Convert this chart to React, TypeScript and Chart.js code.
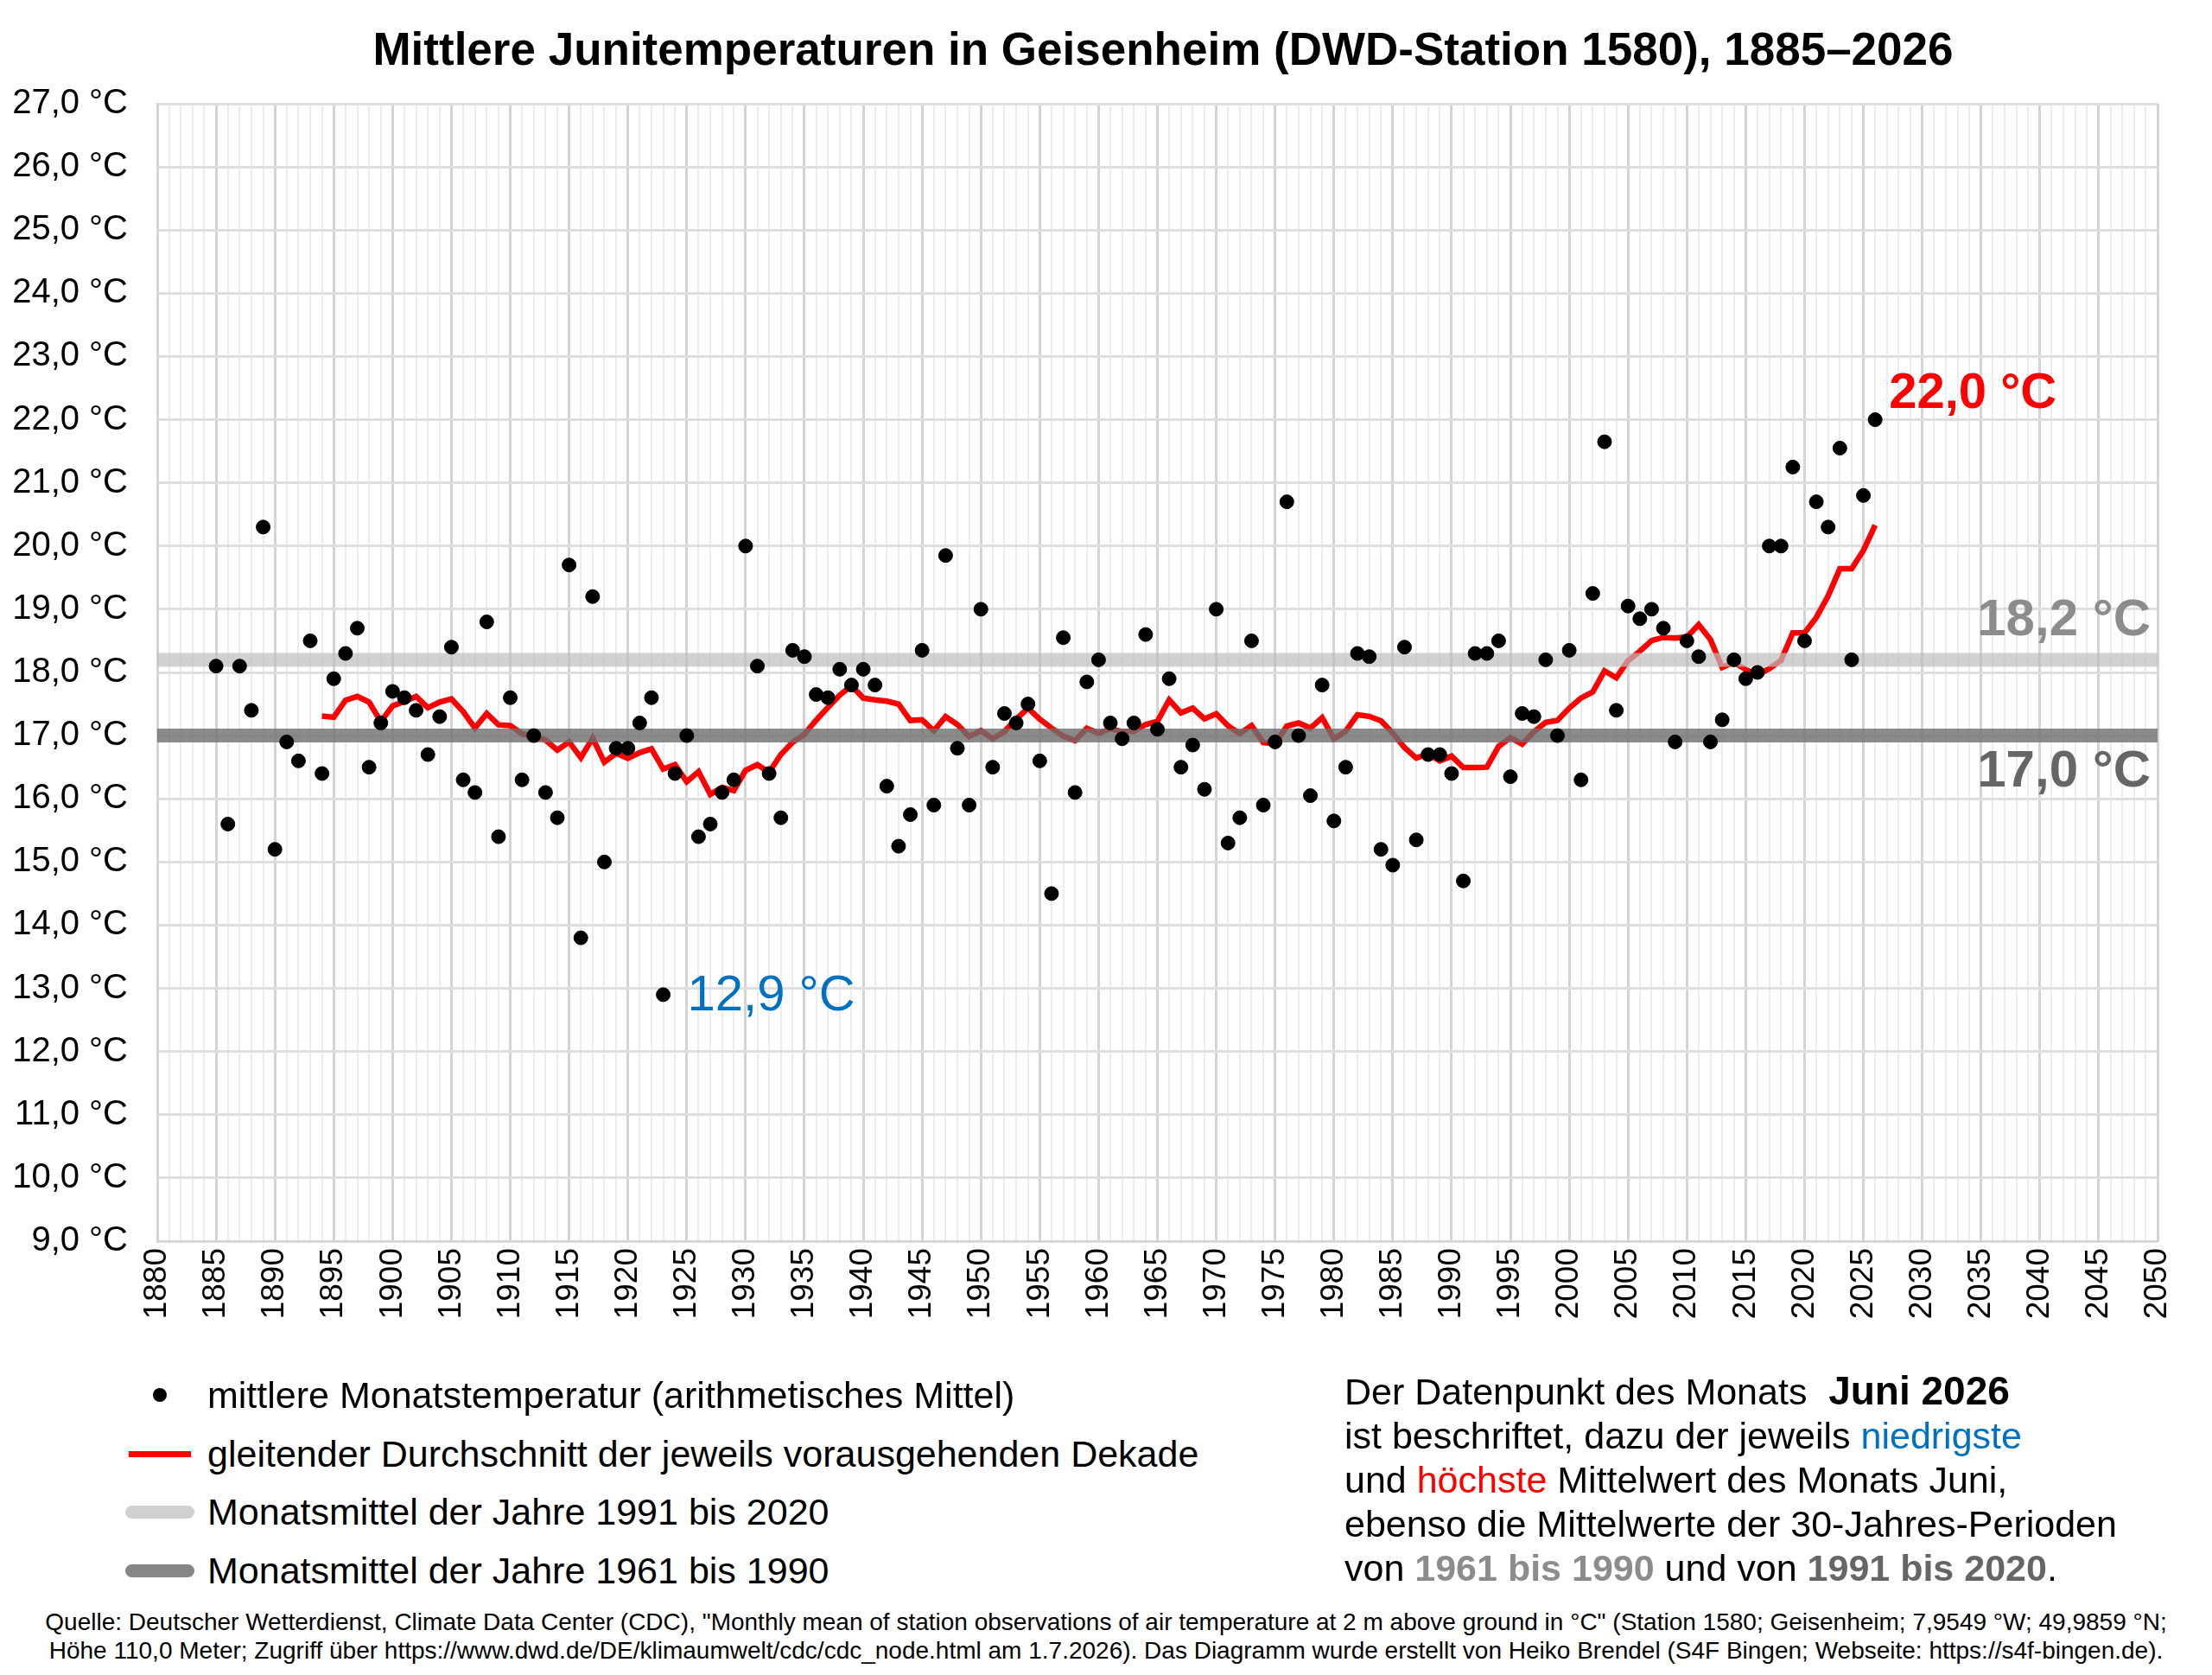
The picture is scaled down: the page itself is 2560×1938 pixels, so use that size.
import React, { useEffect, useRef } from "react";
import { Chart, registerables } from "chart.js";
Chart.register(...registerables);

const startYear = 1885;
const temps: number[] = [
  18.1, 15.6, 18.1, 17.4, 20.3, 15.2, 16.9, 16.6, 18.5, 16.4, // 1885-1894
  17.9, 18.3, 18.7, 16.5, 17.2, 17.7, 17.6, 17.4, 16.7, 17.3, // 1895-1904
  18.4, 16.3, 16.1, 18.8, 15.4, 17.6, 16.3, 17.0, 16.1, 15.7, // 1905-1914
  19.7, 13.8, 19.2, 15.0, 16.8, 16.8, 17.2, 17.6, 12.9, 16.4, // 1915-1924
  17.0, 15.4, 15.6, 16.1, 16.3, 20.0, 18.1, 16.4, 15.7, 18.35, // 1925-1934
  18.25, 17.65, 17.6, 18.05, 17.8, 18.05, 17.8, 16.2, 15.25, 15.75, // 1935-1944
  18.35, 15.9, 19.85, 16.8, 15.9, 19.0, 16.5, 17.35, 17.2, 17.5, // 1945-1954
  16.6, 14.5, 18.55, 16.1, 17.85, 18.2, 17.2, 16.95, 17.2, 18.6, // 1955-1964
  17.1, 17.9, 16.5, 16.85, 16.15, 19.0, 15.3, 15.7, 18.5, 15.9, // 1965-1974
  16.9, 20.7, 17.0, 16.05, 17.8, 15.65, 16.5, 18.3, 18.25, 15.2, // 1975-1984
  14.95, 18.4, 15.35, 16.7, 16.7, 16.4, 14.7, 18.3, 18.3, 18.5, // 1985-1994
  16.35, 17.35, 17.3, 18.2, 17.0, 18.35, 16.3, 19.25, 21.65, 17.4, // 1995-2004
  19.05, 18.85, 19.0, 18.7, 16.9, 18.5, 18.25, 16.9, 17.25, 18.2, // 2005-2014
  17.9, 18.0, 20.0, 20.0, 21.25, 18.5, 20.7, 20.3, 21.55, 18.2, // 2015-2024
  20.8, 22.0, // 2025-2026
];
const years: number[] = temps.map((_, i) => startYear + i);
const mean1961_1990 = 17.0;
const mean1991_2020 = 18.2;
const xTickLabels = ["1880","1885","1890","1895","1900","1905","1910","1915","1920","1925","1930","1935","1940","1945","1950","1955","1960","1965","1970","1975","1980","1985","1990","1995","2000","2005","2010","2015","2020","2025","2030","2035","2040","2045","2050"];

const FONT = "'Liberation Sans', Arial, sans-serif";
const fmt = (v: number) => v.toFixed(1).replace(".", ",") + " °C";

export default function App() {
  const ref = useRef<HTMLCanvasElement>(null);
  useEffect(() => {
    const points = years.map((y, i) => ({ x: y, y: temps[i] }));
    const avg: { x: number; y: number }[] = [];
    for (let i = 9; i < temps.length; i++) {
      let s = 0;
      for (let k = i - 9; k <= i; k++) s += temps[k];
      avg.push({ x: years[i], y: s / 10 });
    }
    const minIdx = temps.indexOf(Math.min(...temps));
    const last = temps.length - 1;
    const labelsPlugin = {
      id: "labels",
      afterDatasetsDraw(chart: any) {
        const { ctx, scales } = chart;
        const xs = scales.x, ys = scales.y;
        ctx.save();
        ctx.textBaseline = "middle";
        ctx.font = `58px ${FONT}`;
        ctx.fillStyle = "#0070C0";
        ctx.textAlign = "left";
        ctx.fillText(fmt(temps[minIdx]), xs.getPixelForValue(years[minIdx]) + 28, ys.getPixelForValue(temps[minIdx]) + 2);
        ctx.font = `bold 58px ${FONT}`;
        ctx.fillStyle = "#FF0000";
        ctx.fillText(fmt(temps[last]), xs.getPixelForValue(years[last]) + 16, ys.getPixelForValue(temps[last]) - 30);
        ctx.textAlign = "right";
        ctx.font = `bold 60px ${FONT}`;
        ctx.fillStyle = "#8c8c8c";
        ctx.fillText(fmt(mean1991_2020), xs.right - 8, ys.getPixelForValue(mean1991_2020) - 45);
        ctx.fillStyle = "#666666";
        ctx.fillText(fmt(mean1961_1990), xs.right - 8, ys.getPixelForValue(mean1961_1990) + 42);
        ctx.restore();
      },
    };
    const chart = new Chart(ref.current!, {
      type: "line",
      data: {
        datasets: [
          { label: "avg", data: avg, borderColor: "#FF0000", borderWidth: 6.5, pointRadius: 0, order: 3 },
          { label: "m9120", data: [{ x: 1880, y: mean1991_2020 }, { x: 2050, y: mean1991_2020 }], borderColor: "rgba(190,190,190,0.7)", borderWidth: 16, pointRadius: 0, order: 2 },
          { label: "m6190", data: [{ x: 1880, y: mean1961_1990 }, { x: 2050, y: mean1961_1990 }], borderColor: "rgba(110,110,110,0.8)", borderWidth: 16, pointRadius: 0, order: 2 },
          { label: "pts", data: points, showLine: false, pointRadius: 8, pointBackgroundColor: "#000", pointBorderColor: "#000", order: 1 },
        ],
      },
      options: {
        animation: false,
        responsive: false,
        maintainAspectRatio: false,
        layout: { padding: { left: 0, top: 120, right: 63, bottom: 0 } },
        plugins: { legend: { display: false }, tooltip: { enabled: false } },
        scales: {
          x: {
            type: "linear", min: 1880, max: 2050,
            afterFit: (s: any) => { s.height = 164; },
            afterBuildTicks: (s: any) => { s.ticks = []; for (let v = 1880; v <= 2050; v++) s.ticks.push({ value: v }); },
            ticks: {
              autoSkip: false, maxRotation: 90, minRotation: 90, color: "#000", padding: 8,
              font: { family: FONT, size: 37 },
              callback: (v: any) => (v % 5 === 0 ? xTickLabels[(v - 1880) / 5] : ""),
            },
            grid: {
              color: (c: any) => (c.tick && c.tick.value % 5 === 0 ? "#d4d4d4" : "#ececec"),
              lineWidth: (c: any) => (c.tick && c.tick.value % 5 === 0 ? 3 : 2),
              drawTicks: false,
            },
            border: { color: "#d4d4d4", width: 2 },
          },
          y: {
            min: 9, max: 27,
            afterFit: (s: any) => { s.width = 182; },
            ticks: { stepSize: 1, color: "#000", font: { family: FONT, size: 40 }, padding: 34, callback: (v: any) => fmt(Number(v)) },
            grid: { color: "#dedede", lineWidth: 3, drawTicks: false },
            border: { color: "#d4d4d4", width: 2 },
          },
        },
      },
      plugins: [labelsPlugin],
    });
    return () => chart.destroy();
  }, []);

  const legendRow = (top: number, marker: React.ReactNode, text: string) => (
    <div style={{ position: "absolute", left: 130, top, height: 60, display: "flex", alignItems: "center" }}>
      <div style={{ width: 110, display: "flex", justifyContent: "center" }}>{marker}</div>
      <span style={{ fontSize: 43 }}>{text}</span>
    </div>
  );
  const bar = (c: string) => <div style={{ width: 80, height: 15, borderRadius: 8, background: c }} />;
  return (
    <div style={{ position: "relative", width: 2560, height: 1938, background: "#fff", fontFamily: FONT, color: "#000", margin: -8 }}>
      <div style={{ position: "absolute", left: 132, width: 2428, top: 26, textAlign: "center", fontWeight: "bold", fontSize: 53 }}>
        Mittlere Junitemperaturen in Geisenheim (DWD-Station 1580), 1885–2026
      </div>
      <canvas ref={ref} width={2560} height={1600} style={{ position: "absolute", left: 0, top: 0, width: 2560, height: 1600 }} />
      {legendRow(1584, <div style={{ width: 16, height: 16, borderRadius: 8, background: "#000" }} />, "mittlere Monatstemperatur (arithmetisches Mittel)")}
      {legendRow(1652, <div style={{ width: 72, height: 7, background: "#FF0000" }} />, "gleitender Durchschnitt der jeweils vorausgehenden Dekade")}
      {legendRow(1719, bar("#d0d0d0"), "Monatsmittel der Jahre 1991 bis 2020")}
      {legendRow(1787, bar("#878787"), "Monatsmittel der Jahre 1961 bis 1990")}
      <div style={{ position: "absolute", left: 1556, top: 1584, fontSize: 43, lineHeight: "51px" }}>
        <div>Der Datenpunkt des Monats <b style={{ fontSize: 46 }}>&nbsp;Juni 2026</b></div>
        <div>ist beschriftet, dazu der jeweils <span style={{ color: "#0070C0" }}>niedrigste</span></div>
        <div>und <span style={{ color: "#FF0000" }}>höchste</span> Mittelwert des Monats Juni,</div>
        <div>ebenso die Mittelwerte der 30-Jahres-Perioden</div>
        <div>von <b style={{ color: "#8c8c8c" }}>1961 bis 1990</b> und von <b style={{ color: "#666" }}>1991 bis 2020</b>.</div>
      </div>
      <div style={{ position: "absolute", left: 0, width: 2560, top: 1860, textAlign: "center", fontSize: 28, lineHeight: "33px", whiteSpace: "nowrap" }}>
        <div>Quelle: Deutscher Wetterdienst, Climate Data Center (CDC), "Monthly mean of station observations of air temperature at 2 m above ground in °C" (Station 1580; Geisenheim; 7,9549 °W; 49,9859 °N;</div>
        <div>Höhe 110,0 Meter; Zugriff über https://www.dwd.de/DE/klimaumwelt/cdc/cdc_node.html am 1.7.2026). Das Diagramm wurde erstellt von Heiko Brendel (S4F Bingen; Webseite: https://s4f-bingen.de).</div>
      </div>
    </div>
  );
}
